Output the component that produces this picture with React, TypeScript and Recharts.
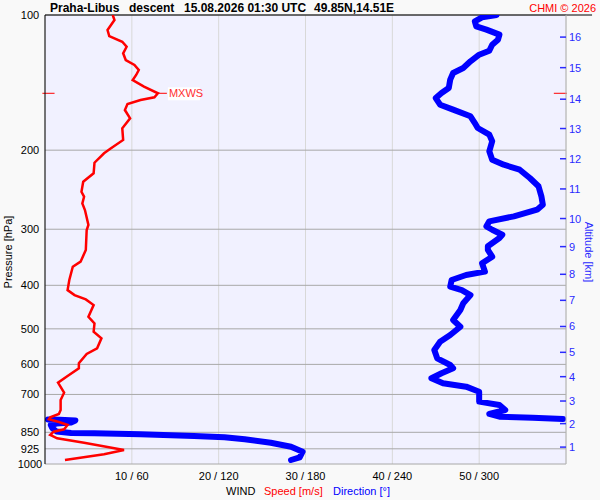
import React from "react";
import {
  LineChart,
  Line,
  XAxis,
  YAxis,
  CartesianGrid,
  ReferenceLine,
  ReferenceDot,
} from "recharts";

const FONT = "'Liberation Sans', Arial, sans-serif";

// pressure axis (hPa), log scale
const pressureTicks = [100, 200, 300, 400, 500, 600, 700, 850, 925, 1000];

// wind axis: speed m/s (direction = same position in degrees)
const speedTicks = [10, 20, 30, 40, 50];
const speedTickLabels = ["10 / 60", "20 / 120", "30 / 180", "40 / 240", "50 / 300"];

// altitude axis: km levels and the pressure they sit at
const altitudeKm = [1, 2, 3, 4, 5, 6, 7, 8, 9, 10, 11, 12, 13, 14, 15, 16];
const altitudePressure = [917, 813, 724, 639, 564, 494, 432, 378, 328, 284, 244, 209, 179, 154, 131, 112];

// wind speed profile
const speedPressure = [
  100, 102.6, 108, 111.4, 114.7, 117.7, 121.7, 126, 129.2, 132.6, 136, 139.6, 144.4, 149.4, 152.5,
  154.6, 157.8, 162.8, 169.9, 178.8, 189.8, 198.1, 203.2, 213.3, 225.2, 235.1, 247.5, 253.9, 262.7,
  271.9, 293.6, 301.2, 333.7, 354.3, 363.6, 389.2, 409.9, 420.5, 429.9, 442.6, 469.9, 486.1, 507.4,
  524.9, 552.5, 568.9, 596.6, 612.2, 636.8, 659, 693.7, 720.2, 758, 773.7, 787.1, 795.1, 806.3,
  818.6, 836.9, 847.4, 861.8, 876.6, 896.6, 930.7, 951.5, 979.7,
];
const speedValues = [
  7.8, 8.0, 7.2, 7.4, 8.9, 9.4, 9.0, 9.3, 10.3, 10.8, 10.5, 10.1, 11.4, 13.0, 12.6,
  11.0, 9.5, 9.2, 9.8, 8.9, 9.0, 7.6, 6.8, 5.7, 5.6, 4.4, 4.2, 4.5, 4.3,
  4.6, 5.0, 4.8, 4.7, 4.1, 3.2, 2.8, 2.6, 3.4, 4.7, 5.6, 5.0, 5.7, 5.6,
  6.5, 6.0, 4.8, 3.9, 3.9, 2.6, 1.5, 2.2, 1.8, 1.8, 1.6, 0.6, 0.45, 1.6,
  2.6, 2.2, 1.0, 0.6, 1.4, 4.5, 9.1, 6.8, 2.3,
];

// wind direction profile, upper part (down to the wrap through north)
const dirUpperPressure = [
  100, 101.2, 103.3, 106, 107.8, 110.6, 113.5, 116.5, 120.1, 122.6, 126.8, 131.2, 134.6, 139.3, 145.4,
  149.2, 153.1, 158.4, 162.5, 168.1, 174, 178.5, 184.7, 191.1, 201.2, 210, 215.5, 221.1, 230.7, 240.7,
  253.4, 264.5, 271.4, 280.8, 288.1, 295.6, 300.8, 308.6, 313.9, 327.4, 333.7, 345.4, 357.3, 372.9,
  379.3, 389.2, 402.8, 409.9, 420.5, 438.6, 453.9, 477.9, 494.6, 516.1, 534.1, 557.4, 581.7, 601.9,
  612.2, 628.1, 644.4, 661.1, 672.6, 690.2, 726.3, 738.8, 758, 773.7, 784.6, 788.6, 794,
];
const dirUpperValues = [
  312, 302, 297, 298, 305, 314, 313, 309, 307, 300, 294, 289, 282, 280, 279,
  274, 270, 273, 282, 294, 297, 299, 307, 309, 307, 309, 317, 328, 335, 341,
  343, 344, 340, 324, 307, 305, 309, 316, 314, 306, 306, 309, 302, 304,
  291, 281, 280, 288, 294, 289, 287, 282, 287, 280, 273, 269, 271, 280,
  282, 274, 267, 275, 291, 300, 300, 314, 318, 307, 314, 337, 358,
];

// wind direction profile, lower part (after the wrap)
const dirLowerPressure = [
  795.5, 797, 800, 808.3, 812.4, 818.6, 831.6, 846.4, 853, 854.2, 858.8, 866.2, 872, 881, 896.6,
  915.2, 938.9, 966.2, 979.7,
];
const dirLowerValues = [2, 10, 21, 18, 8, 4, 5, 8, 18, 34, 66, 103, 124, 138, 156, 170, 178, 176, 170];

// maximum wind level
const mxwsPressure = 149.4;
const mxwsSpeed = 13.0;

const PressureTick = (props: any) => {
  const { y, payload } = props;
  return (
    <text x={30} y={y} dy={4} textAnchor="middle" fontSize={11} fill="#000" fontFamily={FONT}>
      {payload.value}
    </text>
  );
};

const AltTick = (props: any) => {
  const { x, y, payload } = props;
  const i = altitudePressure.indexOf(payload.value);
  return (
    <g>
      <line x1={x - 8} y1={y} x2={x - 2} y2={y} stroke="#2a2aff" strokeWidth={1.5} />
      <text x={x + 1} y={y} dy={4} textAnchor="start" fontSize={11} fill="#2a2aff" fontFamily={FONT}>
        {altitudeKm[i]}
      </text>
    </g>
  );
};

const MxwsMark = (props: any) => {
  const { cx, cy } = props;
  return (
    <g>
      <line x1={cx} y1={cy} x2={cx + 9} y2={cy} stroke="#ff0000" strokeWidth={1} />
      <rect x={cx + 10} y={cy - 6} width={32} height={13} fill="#ffffff" />
      <text x={cx + 11} y={cy + 4} fontSize={11} fill="#ff3030" fontFamily={FONT}>
        MXWS
      </text>
    </g>
  );
};

export default function App() {
  const speedData = speedPressure.map((p, i) => ({ p, speed: speedValues[i] }));
  const dirUpper = dirUpperPressure.map((p, i) => ({ p, dir: dirUpperValues[i] }));
  const dirLower = dirLowerPressure.map((p, i) => ({ p, dir: dirLowerValues[i] }));

  return (
    <div
      style={{
        position: "absolute",
        left: 0,
        top: 0,
        width: 600,
        height: 500,
        background: "#f9f9f9",
        fontFamily: FONT,
      }}
    >
      <LineChart
        width={600}
        height={500}
        layout="vertical"
        margin={{ top: 15, right: 0, bottom: 0, left: 0 }}
        style={{ position: "absolute", left: 0, top: 0 }}
      >
        <CartesianGrid xAxisId="speed" yAxisId="p" horizontal={false} stroke="#d8d8d8" fill="#f1f1ff" />
        <CartesianGrid xAxisId="speed" yAxisId="p" vertical={false} stroke="#a8a8a8" />
        <XAxis
          xAxisId="speed"
          type="number"
          domain={[0, 60]}
          ticks={speedTicks}
          interval={0}
          tickFormatter={(v: number) => speedTickLabels[speedTicks.indexOf(v)]}
          axisLine={false}
          tickLine={false}
          tick={{ fontSize: 11, fill: "#000", fontFamily: FONT }}
          height={36}
          allowDataOverflow
        />
        <XAxis xAxisId="dir" type="number" domain={[0, 360]} hide height={0} orientation="top" allowDataOverflow />
        <YAxis
          yAxisId="p"
          dataKey="p"
          type="number"
          scale="log"
          domain={[100, 1000]}
          ticks={pressureTicks}
          interval={0}
          width={45}
          axisLine={{ stroke: "#000" }}
          tickLine={false}
          tick={PressureTick}
          allowDataOverflow
        />
        <YAxis
          yAxisId="alt"
          dataKey="p"
          orientation="right"
          type="number"
          scale="log"
          domain={[100, 1000]}
          ticks={altitudePressure}
          interval={0}
          width={34}
          axisLine={{ stroke: "#b4b4b4" }}
          tickLine={false}
          tickSize={0}
          tickMargin={2}
          tick={AltTick}
          allowDataOverflow
        />
        <ReferenceLine
          xAxisId="speed"
          yAxisId="p"
          segment={[{ x: 0, y: 100 }, { x: 63, y: 100 }]}
          stroke="#000"
          strokeWidth={1}
          ifOverflow="visible"
        />
        <Line
          xAxisId="dir"
          yAxisId="p"
          data={dirUpper}
          dataKey="dir"
          type="linear"
          stroke="#0000ff"
          strokeWidth={6}
          strokeLinejoin="round"
          strokeLinecap="round"
          dot={false}
          isAnimationActive={false}
        />
        <Line
          xAxisId="dir"
          yAxisId="p"
          data={dirLower}
          dataKey="dir"
          type="linear"
          stroke="#0000ff"
          strokeWidth={6}
          strokeLinejoin="round"
          strokeLinecap="round"
          dot={false}
          isAnimationActive={false}
        />
        <Line
          xAxisId="speed"
          yAxisId="p"
          data={speedData}
          dataKey="speed"
          type="linear"
          stroke="#ff0000"
          strokeWidth={2.5}
          dot={false}
          isAnimationActive={false}
        />
        <ReferenceLine
          xAxisId="speed"
          yAxisId="p"
          segment={[{ x: -0.3, y: mxwsPressure }, { x: 1.1, y: mxwsPressure }]}
          stroke="#ff0000"
          ifOverflow="visible"
        />
        <ReferenceLine
          xAxisId="speed"
          yAxisId="p"
          segment={[{ x: 58.6, y: mxwsPressure }, { x: 60.1, y: mxwsPressure }]}
          stroke="#ff0000"
          ifOverflow="visible"
        />
        <ReferenceDot
          xAxisId="speed"
          yAxisId="p"
          x={mxwsSpeed}
          y={mxwsPressure}
          ifOverflow="visible"
          shape={MxwsMark}
        />
      </LineChart>
      <svg
        width={600}
        height={500}
        style={{ position: "absolute", left: 0, top: 0, pointerEvents: "none" }}
        fontFamily={FONT}
      >
        <text y={12} fontSize={12} fontWeight="bold" fill="#000">
          <tspan x={50}>Praha-Libus</tspan>
          <tspan x={129}>descent</tspan>
          <tspan x={184}>15.08.2026 01:30 UTC</tspan>
          <tspan x={314}>49.85N,14.51E</tspan>
        </text>
        <text x={596} y={12} fontSize={11} fill="#ff0000" textAnchor="end">
          CHMI © 2026
        </text>
        <text x={12} y={252} fontSize={11} fill="#000" textAnchor="middle" transform="rotate(-90 12 252)">
          Pressure [hPa]
        </text>
        <text x={585} y={252} fontSize={11} fill="#2a2aff" textAnchor="middle" transform="rotate(90 585 252)">
          Altitude [km]
        </text>
        <text y={495} fontSize={11}>
          <tspan x={226} fill="#000">WIND</tspan>
          <tspan x={264} fill="#ff0000">Speed [m/s]</tspan>
          <tspan x={333} fill="#0000ff">Direction [°]</tspan>
        </text>
      </svg>
    </div>
  );
}
